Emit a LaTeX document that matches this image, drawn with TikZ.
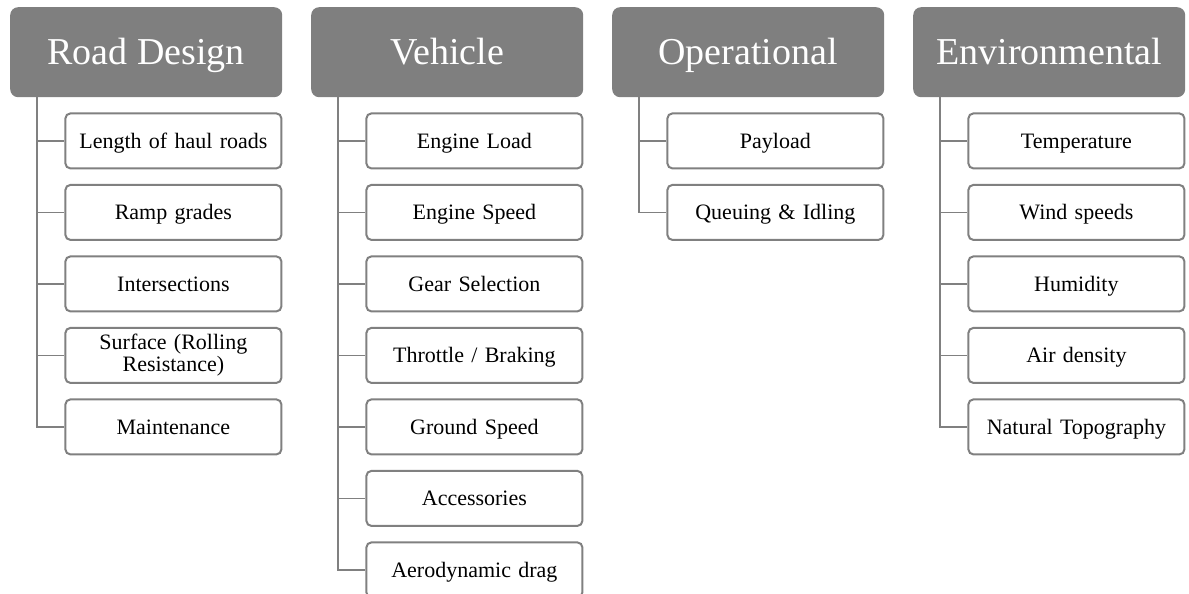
\documentclass[tikz,border=0pt]{standalone}
\usepackage{fontspec}
\setmainfont{Liberation Serif}
\usetikzlibrary{positioning}

\definecolor{headgray}{RGB}{127,127,127}
\definecolor{linegray}{RGB}{128,128,128}

\begin{document}
\begin{tikzpicture}[
  x=1pt, y=-1pt,
  node distance=14.5pt,
  head/.style={fill=headgray, text=white, rounded corners=8pt, anchor=north west,
    minimum width=272pt, minimum height=90pt, inner sep=0pt,
    text height=25pt, text depth=0pt,
    font=\fontsize{38}{40}\selectfont},
  itembase/.style={draw=linegray, fill=white, line width=2pt, rounded corners=5pt,
    align=center, text width=210pt, inner sep=2pt,
    minimum width=216pt, minimum height=55pt,
    font=\fontsize{22}{22}\selectfont},
  item/.style={itembase, text height=15pt, text depth=0pt},
  link/.style={draw=linegray, line width=1.8pt}
]
\useasboundingbox (0,0) rectangle (1189,594);

% category headers
\node[head] (rd)  at (10,7)  {Road Design};
\node[head] (veh) at (311,7) {Vehicle};
\node[head] (op)  at (612,7) {Operational};
\node[head] (env) at (913,7) {Environmental};

% road design
\node[item, below=15pt of rd.south east, anchor=north east] (rd1) {Length of haul roads};
\node[item, below=of rd1] (rd2) {Ramp grades};
\node[item, below=of rd2] (rd3) {Intersections};
\node[itembase, below=of rd3] (rd4) {Surface (Rolling\\Resistance)};
\node[item, below=of rd4] (rd5) {Maintenance};

% vehicle
\node[item, below=15pt of veh.south east, anchor=north east] (veh1) {Engine Load};
\node[item, below=of veh1] (veh2) {Engine Speed};
\node[item, below=of veh2] (veh3) {Gear Selection};
\node[item, below=of veh3] (veh4) {Throttle / Braking};
\node[item, below=of veh4] (veh5) {Ground Speed};
\node[item, below=of veh5] (veh6) {Accessories};
\node[item, below=of veh6] (veh7) {Aerodynamic drag};

% operational
\node[item, below=15pt of op.south east, anchor=north east] (op1) {Payload};
\node[item, below=of op1] (op2) {Queuing \& Idling};

% environmental
\node[item, below=15pt of env.south east, anchor=north east] (env1) {Temperature};
\node[item, below=of env1] (env2) {Wind speeds};
\node[item, below=of env2] (env3) {Humidity};
\node[item, below=of env3] (env4) {Air density};
\node[item, below=of env4] (env5) {Natural Topography};

% tree connectors
\foreach \h/\n in {rd/5, veh/7, op/2, env/5} {
  \coordinate (\h top) at ([xshift=27pt]\h.south west);
  \draw[link] (\h top) |- (\h\n.west);
  \foreach \k in {1,...,\n}
    \draw[link] (\h top |- \h\k.west) -- (\h\k.west);
}
\end{tikzpicture}
\end{document}
